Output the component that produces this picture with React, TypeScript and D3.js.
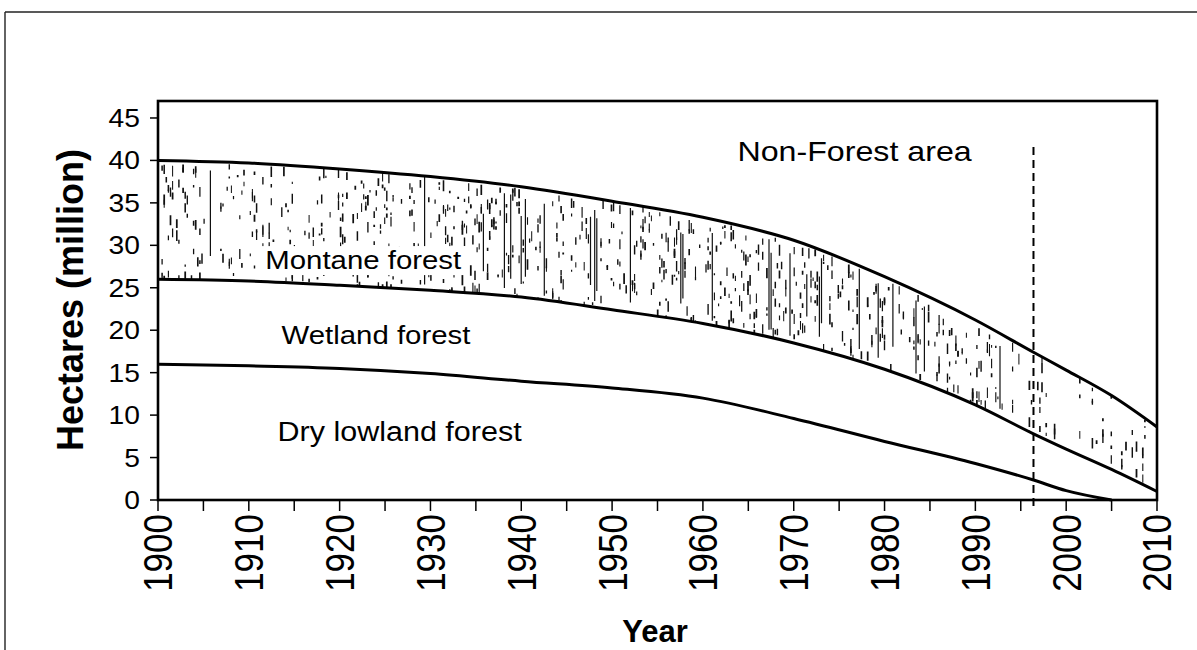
import React from "react";
import * as d3 from "d3";

const years = [1900, 1910, 1920, 1930, 1940, 1950, 1960, 1970, 1980, 1990, 1996.4, 2000, 2005, 2010];
const totalForest = [40.0, 39.7, 39.0, 38.1, 36.9, 35.2, 33.3, 30.6, 26.3, 21.2, 17.4, 15.3, 12.3, 8.6];
const wetlandTop = [26.0, 25.8, 25.3, 24.7, 23.9, 22.4, 20.8, 18.5, 15.4, 11.2, 7.8, 6.0, 3.6, 1.0];
const dryLowland = [16.0, 15.8, 15.5, 14.9, 14.0, 13.2, 12.0, 9.6, 6.9, 4.3, 2.35, 1.1, 0.0, 0.0];
const yTicks = [0, 5, 10, 15, 20, 25, 30, 35, 40, 45];
const xLabelYears = [1900, 1910, 1920, 1930, 1940, 1950, 1960, 1970, 1980, 1990, 2000, 2010];
const xTickYears = d3.range(1900, 2011, 5);
const nonForestYear = 1996.4;
const areaLabels = [
  { text: "Montane forest", year: 1922.6, value: 27.2, size: 26 },
  { text: "Wetland forest", year: 1924.0, value: 18.4, size: 26 },
  { text: "Dry lowland forest", year: 1926.6, value: 7.0, size: 27 },
];
const nonForestLabel = { text: "Non-Forest area", year: 1976.7, value: 39.9 };

const W = 1197;
const H = 650;
const M = { left: 158, right: 1157, top: 101, bottom: 500 };
const FONT = "'Liberation Sans', Arial, Helvetica, sans-serif";
const SX = 1.13;

export default function App() {
  const x = d3.scaleLinear().domain([1900, 2010]).range([M.left, M.right]);
  const y = d3.scaleLinear().domain([0, 47]).range([M.bottom, M.top]);

  const curve = d3.curveMonotoneX;
  const pts = (vals: number[]) => {
    const p = years.map((yr, i) => [yr, vals[i]] as [number, number]);
    // drop trailing repeated zeros (line runs along the axis)
    return p.filter((d, j) => !(d[1] === 0 && j > 0 && p[j - 1][1] === 0));
  };
  const line = d3.line<[number, number]>().x((d) => x(d[0])).y((d) => y(d[1])).curve(curve);
  const montaneArea = d3
    .area<number>()
    .x((_, i) => x(years[i]))
    .y0((_, i) => y(wetlandTop[i]))
    .y1((d) => y(d))
    .curve(curve);

  // deterministic stipple texture (vertical dashes) inside the montane band
  const rnd = d3.randomLcg(0.4242);
  const topAt = d3.scaleLinear().domain(years).range(totalForest);
  const botAt = d3.scaleLinear().domain(years).range(wetlandTop);
  const dashes: { x: number; y1: number; y2: number; w: number }[] = [];
  for (let px = M.left + 2; px < M.right; px += 2.1) {
    const yr = x.invert(px);
    const top = y(topAt(yr));
    const bot = y(botAt(yr));
    const density = yr < 1935 ? 0.7 : yr < 1993 ? 0.8 : 0.3;
    if (rnd() > density) continue;
    const long = rnd() < (yr > 1935 && yr < 1992 ? 0.1 : 0.03);
    if (long) {
      const a = top + (bot - top) * rnd() * 0.3;
      const b = bot - (bot - top) * rnd() * 0.3;
      dashes.push({ x: px, y1: a, y2: b, w: 1.2 });
    } else {
      const n = 1 + Math.floor(rnd() * 4);
      for (let k = 0; k < n; k++) {
        const a = top + (bot - top) * rnd();
        const len = 2 + rnd() * 9;
        dashes.push({ x: px, y1: a, y2: a + len, w: 1 + rnd() * 0.8 });
      }
    }
  }

  const montaneLabel = areaLabels[0];

  return (
    <svg width={W} height={H} style={{ display: "block", position: "absolute", left: 0, top: 0, background: "#fff" }}>
      <rect x={0} y={0} width={W} height={H} fill="#fff" />
      {/* outer frame */}
      <line x1={5} y1={12} x2={W} y2={12} stroke="#222" strokeWidth={1.6} />
      <line x1={5} y1={12} x2={5} y2={H} stroke="#222" strokeWidth={1.4} />

      <defs>
        <clipPath id="montClip">
          <path d={montaneArea(totalForest) || ""} />
        </clipPath>
      </defs>

      {/* stipple */}
      <g clipPath="url(#montClip)">
        {dashes.map((d, i) => (
          <line key={i} x1={d.x} x2={d.x} y1={d.y1} y2={d.y2} stroke="#111" strokeWidth={d.w} />
        ))}
      </g>

      {/* white background behind montane label */}
      <rect x={x(montaneLabel.year) - 103} y={y(montaneLabel.value) - 23} width={206} height={29} fill="#fff" />

      {/* curves */}
      {[totalForest, wetlandTop, dryLowland].map((v, i) => (
        <path key={i} d={line(pts(v)) || ""} fill="none" stroke="#000" strokeWidth={3} strokeLinejoin="round" />
      ))}

      {/* non-forest dashed line */}
      <line
        x1={x(nonForestYear)}
        x2={x(nonForestYear)}
        y1={147}
        y2={M.bottom + 10}
        stroke="#000"
        strokeWidth={2}
        strokeDasharray="8,5"
      />

      {/* plot border */}
      <rect
        x={M.left}
        y={M.top}
        width={M.right - M.left}
        height={M.bottom - M.top}
        fill="none"
        stroke="#000"
        strokeWidth={2.6}
      />

      {/* y ticks */}
      {yTicks.map((t) => (
        <g key={t}>
          <line x1={M.left - 8} x2={M.left} y1={y(t)} y2={y(t)} stroke="#000" strokeWidth={1.5} />
          <g transform={`translate(${M.left - 18},${y(t) + 9}) scale(${SX},1)`}>
            <text textAnchor="end" fontFamily={FONT} fontSize={25} fill="#000">
              {t}
            </text>
          </g>
        </g>
      ))}

      {/* x ticks */}
      {xTickYears.map((t) => (
        <line key={t} x1={x(t)} x2={x(t)} y1={M.bottom} y2={M.bottom + 11} stroke="#000" strokeWidth={1.5} />
      ))}
      {xLabelYears.map((t) => (
        <g key={t} transform={`translate(${x(t)},514) scale(1.15,1) rotate(-90)`}>
          <text textAnchor="end" dy="0.36em" fontFamily={FONT} fontSize={35} fill="#000">
            {t}
          </text>
        </g>
      ))}

      {/* axis titles */}
      <g transform={`translate(83,300) rotate(-90)`}>
        <text textAnchor="middle" fontFamily={FONT} fontWeight="bold" fontSize={36} fill="#000">
          Hectares (million)
        </text>
      </g>
      <g transform={`translate(655,642)`}>
        <text textAnchor="middle" fontFamily={FONT} fontWeight="bold" fontSize={31} fill="#000">
          Year
        </text>
      </g>

      {/* area labels */}
      {areaLabels.map((l) => (
        <g key={l.text} transform={`translate(${x(l.year)},${y(l.value)}) scale(${SX},1)`}>
          <text textAnchor="middle" fontFamily={FONT} fontSize={l.size} fill="#000">
            {l.text}
          </text>
        </g>
      ))}
      <g transform={`translate(${x(nonForestLabel.year)},${y(nonForestLabel.value)}) scale(${SX},1)`}>
        <text textAnchor="middle" fontFamily={FONT} fontSize={28.5} fill="#000">
          {nonForestLabel.text}
        </text>
      </g>
    </svg>
  );
}
